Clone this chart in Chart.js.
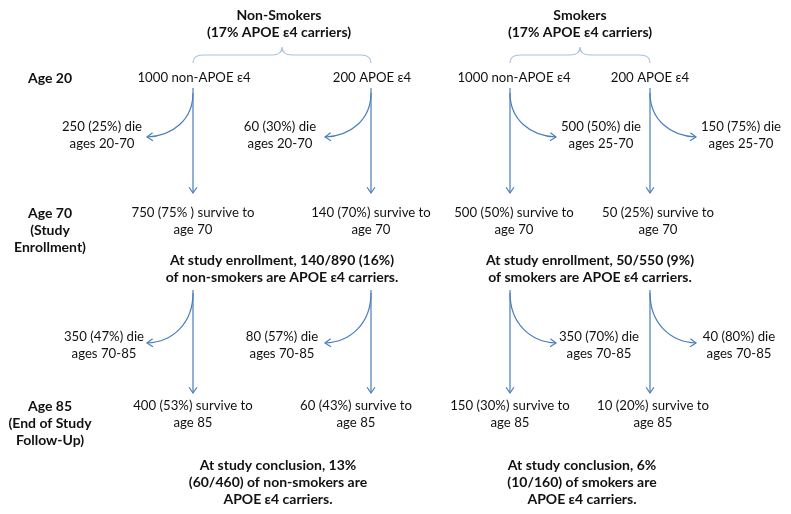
<!DOCTYPE html>
<html>
<head>
<meta charset="utf-8">
<script src="https://cdn.jsdelivr.net/npm/chart.js@4/dist/chart.umd.min.js"></script>
<style>
  html, body { margin: 0; padding: 0; background: #fff; }
  #wrap { width: 791px; height: 514px; }
</style>
</head>
<body>
<div id="wrap"><canvas id="flow" width="791" height="514"></canvas></div>
<script>
// --- values ---
const groups = ["Non-Smokers", "Smokers"];
const carrierShare = ["17%", "17%"];
const genotypes = ["non-APOE ε4", "APOE ε4"];
const stageLabels = [["Age 20"], ["Age 70", "(Study", "Enrollment)"], ["Age 85", "(End of Study", "Follow-Up)"]];

// [non-carriers, carriers] per group
const start20 = [[1000, 200], [1000, 200]];
const die20to70 = [[250, 60], [500, 150]];
const die20to70Pct = [["25%", "30%"], ["50%", "75%"]];
const dieAges1 = ["ages 20-70", "ages 25-70"];
const survive70 = [[750, 140], [500, 50]];
const survive70Pct = [["75% ", "70%"], ["50%", "25%"]];
const die70to85 = [[350, 80], [350, 40]];
const die70to85Pct = [["47%", "57%"], ["70%", "80%"]];
const survive85 = [[400, 60], [150, 10]];
const survive85Pct = [["53%", "43%"], ["30%", "20%"]];
const enrollPct = ["16%", "9%"];
const concludePct = ["13%", "6%"];

// --- layout (diagram coordinates, 0..791 by 0..514) ---
const colX = [[193, 371], [510, 650]];
const dieSide = [-1, 1];          // non-smokers branch left, smokers right
const rowY = { head: 15, age20: 78, age70: 213, age85: 406 };
const BLUE = "#4a7ebb";
const FONT = "Lato, 'Noto Sans', sans-serif";
const FS = 13.2;
const FS_BOLD = 14;
const LH = 17;

// vertical arrows built from the column layout
const verticals = [];
colX.forEach(cols => cols.forEach(x => {
  verticals.push([{ x: x, y: 88 }, { x: x, y: 193 }]);
  verticals.push([{ x: x, y: 290 }, { x: x, y: 393 }]);
}));

const datasets = verticals.map(seg => ({
  type: "line",
  data: seg,
  borderColor: BLUE,
  borderWidth: 1.2,
  pointRadius: 0,
  fill: false
}));

const diagram = {
  id: "diagram",
  afterDatasetsDraw(chart) {
    const ctx = chart.ctx;
    const sx = chart.scales.x, sy = chart.scales.y;
    const X = v => sx.getPixelForValue(v);
    const Y = v => sy.getPixelForValue(v);

    function text(lines, x, y, bold) {
      ctx.save();
      ctx.fillStyle = "#111";
      ctx.font = bold ? "bold " + FS_BOLD + "px " + FONT : FS + "px " + FONT;
      ctx.textAlign = "center";
      ctx.textBaseline = "middle";
      lines.forEach((t, i) => ctx.fillText(t, X(x), Y(y + i * LH)));
      ctx.restore();
    }

    function head(x, y, dx, dy) {
      const a = Math.atan2(dy, dx), L = 7, s = 0.6;
      ctx.beginPath();
      ctx.moveTo(X(x) - L * Math.cos(a - s), Y(y) - L * Math.sin(a - s));
      ctx.lineTo(X(x), Y(y));
      ctx.lineTo(X(x) - L * Math.cos(a + s), Y(y) - L * Math.sin(a + s));
      ctx.stroke();
    }

    function curve(x0, y0, side, drop) {
      const x3 = x0 + side * 46, y3 = y0 + drop;
      const c1x = x0, c1y = y0 + drop * 0.6;
      const c2x = x0 + side * 20, c2y = y3 - 1;
      ctx.beginPath();
      ctx.moveTo(X(x0), Y(y0));
      ctx.bezierCurveTo(X(c1x), Y(c1y), X(c2x), Y(c2y), X(x3), Y(y3));
      ctx.stroke();
      head(x3, y3, x3 - c2x, y3 - c2y);
    }

    function brace(x0, x1, y0) {
      const mid = (x0 + x1) / 2;
      ctx.save();
      ctx.strokeStyle = "#a9c1de";
      ctx.lineWidth = 1.2;
      ctx.beginPath();
      ctx.moveTo(X(x0), Y(y0 + 16));
      ctx.quadraticCurveTo(X(x0), Y(y0 + 8), X(x0 + 10), Y(y0 + 8));
      ctx.lineTo(X(mid - 10), Y(y0 + 8));
      ctx.quadraticCurveTo(X(mid), Y(y0 + 8), X(mid), Y(y0));
      ctx.quadraticCurveTo(X(mid), Y(y0 + 8), X(mid + 10), Y(y0 + 8));
      ctx.lineTo(X(x1 - 10), Y(y0 + 8));
      ctx.quadraticCurveTo(X(x1), Y(y0 + 8), X(x1), Y(y0 + 16));
      ctx.stroke();
      ctx.restore();
    }

    // stage labels
    text(stageLabels[0], 50, rowY.age20, true);
    text(stageLabels[1], 50, rowY.age70, true);
    text(stageLabels[2], 50, rowY.age85, true);

    const headX = [279, 580];
    const enrollX = [282, 590];
    const concludeX = [278, 582];
    const surv85X = [[193, 356], [510, 653]];
    const surv70X = [[193, 371], [514, 658]];
    const startX = [[194, 372], [514, 650]];

    groups.forEach((g, gi) => {
      text([g, "(" + carrierShare[gi] + " APOE ε4 carriers)"], headX[gi], rowY.head, true);
      brace(colX[gi][0], colX[gi][1], 47);

      const side = dieSide[gi];
      [0, 1].forEach(k => {
        const x = colX[gi][k];
        text([start20[gi][k] + " " + genotypes[k]], startX[gi][k], rowY.age20, false);

        ctx.save();
        ctx.strokeStyle = BLUE;
        ctx.lineWidth = 1.2;
        curve(x, 93, side, 44);
        curve(x, 293, side, 50);
        head(x, 193, 0, 1);
        head(x, 393, 0, 1);
        ctx.restore();

        const dx = x + side * 91;
        text([die20to70[gi][k] + " (" + die20to70Pct[gi][k] + ") die", dieAges1[gi]], dx, 127, false);
        text([die70to85[gi][k] + " (" + die70to85Pct[gi][k] + ") die", "ages 70-85"], dx - side * 2, 337, false);

        text([survive70[gi][k] + " (" + survive70Pct[gi][k] + ") survive to", "age 70"], surv70X[gi][k], rowY.age70, false);
        text([survive85[gi][k] + " (" + survive85Pct[gi][k] + ") survive to", "age 85"], surv85X[gi][k], rowY.age85, false);
      });

      const who = gi === 0 ? "non-smokers" : "smokers";
      const c70 = survive70[gi][1], t70 = survive70[gi][0] + survive70[gi][1];
      text(["At study enrollment, " + c70 + "/" + t70 + " (" + enrollPct[gi] + ")",
            "of " + who + " are APOE ε4 carriers."], enrollX[gi], 260, true);
      const c85 = survive85[gi][1], t85 = survive85[gi][0] + survive85[gi][1];
      text(["At study conclusion, " + concludePct[gi],
            "(" + c85 + "/" + t85 + ") of " + who + " are",
            "APOE ε4 carriers."], concludeX[gi], 465, true);
    });
  }
};

new Chart(document.getElementById("flow"), {
  type: "scatter",
  data: { datasets: datasets },
  options: {
    responsive: false,
    animation: false,
    layout: { padding: 0 },
    scales: {
      x: { type: "linear", min: 0, max: 791, display: false },
      y: { type: "linear", min: 0, max: 514, reverse: true, display: false }
    },
    plugins: {
      legend: { display: false },
      tooltip: { enabled: false }
    }
  },
  plugins: [diagram]
});
</script>
</body>
</html>
